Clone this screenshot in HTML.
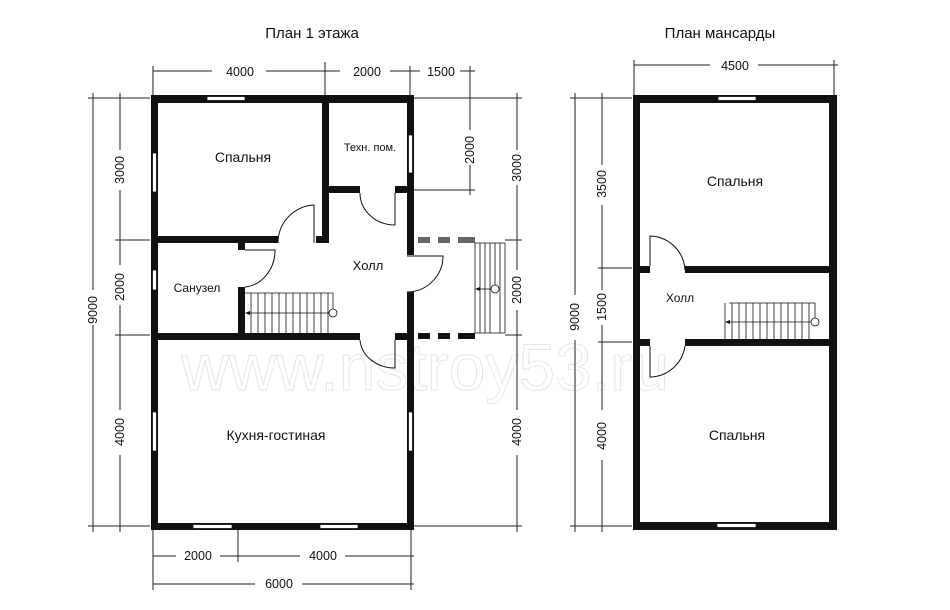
<!DOCTYPE html>
<html><head><meta charset="utf-8"><style>
html,body{margin:0;padding:0;background:#fff;width:950px;height:610px;overflow:hidden}
svg text{font-family:"Liberation Sans",sans-serif;fill:#111}
</style></head><body>
<svg width="950" height="610" viewBox="0 0 950 610" xmlns="http://www.w3.org/2000/svg">
<!-- watermark -->
<text x="425" y="390" font-size="66" text-anchor="middle" stroke="#e6e6e6" stroke-width="1" style="fill:none">www.nstroy53.ru</text>

<g stroke="#222" stroke-width="1" fill="none">
<!-- Plan 1 dims top -->
<line x1="153" y1="71" x2="212" y2="71"/><line x1="266" y1="71" x2="340" y2="71"/><line x1="390" y1="71" x2="420" y2="71"/><line x1="460" y1="71" x2="475" y2="71"/>
<line x1="153" y1="66" x2="153" y2="95"/><line x1="325" y1="62" x2="325" y2="95"/><line x1="410" y1="66" x2="410" y2="95"/><line x1="470" y1="66" x2="470" y2="110"/>
<!-- left dims -->
<line x1="88" y1="98" x2="150" y2="98"/><line x1="93" y1="93" x2="93" y2="290"/><line x1="93" y1="325" x2="93" y2="532"/>
<line x1="120" y1="93" x2="120" y2="150"/><line x1="120" y1="190" x2="120" y2="265"/><line x1="120" y1="305" x2="120" y2="410"/><line x1="120" y1="455" x2="120" y2="532"/>
<line x1="115" y1="240" x2="150" y2="240"/><line x1="115" y1="335" x2="150" y2="335"/><line x1="88" y1="526" x2="150" y2="526"/>
<!-- right dims -->
<line x1="414" y1="98" x2="522" y2="98"/><line x1="414" y1="190" x2="475" y2="190"/><line x1="470" y1="110" x2="470" y2="130"/><line x1="470" y1="165" x2="470" y2="195"/>
<line x1="517" y1="93" x2="517" y2="150"/><line x1="517" y1="185" x2="517" y2="270"/><line x1="517" y1="310" x2="517" y2="410"/><line x1="517" y1="455" x2="517" y2="532"/>
<line x1="505" y1="240" x2="522" y2="240"/><line x1="505" y1="335" x2="522" y2="335"/><line x1="414" y1="526" x2="522" y2="526"/>
<!-- bottom dims -->
<line x1="153" y1="530" x2="153" y2="590"/><line x1="238" y1="530" x2="238" y2="562"/><line x1="411" y1="530" x2="411" y2="590"/>
<line x1="153" y1="556" x2="176" y2="556"/><line x1="220" y1="556" x2="300" y2="556"/><line x1="345" y1="556" x2="414" y2="556"/>
<line x1="153" y1="584" x2="255" y2="584"/><line x1="302" y1="584" x2="414" y2="584"/>

<!-- Plan 2 dims -->
<line x1="634" y1="60" x2="634" y2="95"/><line x1="834" y1="60" x2="834" y2="95"/>
<line x1="634" y1="65" x2="710" y2="65"/><line x1="758" y1="65" x2="838" y2="65"/>
<line x1="570" y1="98" x2="632" y2="98"/><line x1="575" y1="93" x2="575" y2="295"/><line x1="575" y1="340" x2="575" y2="532"/>
<line x1="602" y1="93" x2="602" y2="165"/><line x1="602" y1="205" x2="602" y2="290"/><line x1="602" y1="325" x2="602" y2="410"/><line x1="602" y1="460" x2="602" y2="532"/>
<line x1="598" y1="268" x2="632" y2="268"/><line x1="598" y1="342" x2="632" y2="342"/><line x1="570" y1="526" x2="632" y2="526"/>
</g>

<!-- Plan 1 walls -->
<g fill="#111">
<rect x="151" y="95" width="263" height="8"/>
<rect x="151" y="95" width="7" height="435"/>
<rect x="407" y="95" width="7" height="160"/>
<rect x="407" y="292" width="7" height="238"/>
<rect x="151" y="523" width="263" height="7"/>
<rect x="322" y="95" width="7" height="148"/>
<rect x="329" y="186" width="31" height="7"/><rect x="395" y="186" width="12" height="7"/>
<rect x="158" y="236" width="120" height="7"/>
<rect x="316" y="236" width="13" height="7"/>
<rect x="238" y="236" width="7" height="14"/>
<rect x="238" y="287" width="7" height="53"/>
<rect x="158" y="333" width="202" height="7"/>
<rect x="395" y="333" width="12" height="7"/>
</g>
<!-- dashes -->
<g fill="#666"><rect x="418" y="237" width="12" height="6"/><rect x="438" y="237" width="12" height="6"/><rect x="458" y="237" width="17" height="6"/></g>
<g fill="#111"><rect x="418" y="333" width="12" height="6"/><rect x="438" y="333" width="12" height="6"/><rect x="458" y="333" width="17" height="6"/></g>
<!-- windows plan1 -->
<g fill="#fff" stroke="#111" stroke-width="0.8">
<rect x="207" y="96.5" width="38" height="4"/>
<rect x="152.5" y="153" width="4" height="39"/>
<rect x="152.5" y="270" width="4" height="20"/>
<rect x="152.5" y="412" width="4" height="39"/>
<rect x="408.5" y="135" width="4" height="38"/>
<rect x="408.5" y="412" width="4" height="39"/>
<rect x="193" y="524.5" width="39" height="4"/>
<rect x="320" y="524.5" width="38" height="4"/>
</g>
<!-- doors plan1 -->
<g stroke="#111" stroke-width="1" fill="none">
<path d="M314 243 V205 A38 38 0 0 0 278 243"/>
<path d="M245 250 H275 A33 37 0 0 1 245 287"/>
<path d="M395 193 V225 A35 32 0 0 1 360 193"/>
<path d="M407 256 H443 A36 36 0 0 1 407 292"/>
<path d="M395 340 V368 A35 30 0 0 1 360 340"/>
</g>
<!-- stairs -->
<g stroke="#111" stroke-width="0.8" fill="none">
<line x1="245" y1="293" x2="333" y2="293"/>
<line x1="251" y1="293" x2="251" y2="333"/><line x1="258" y1="293" x2="258" y2="333"/><line x1="265" y1="293" x2="265" y2="333"/><line x1="272" y1="293" x2="272" y2="333"/><line x1="279" y1="293" x2="279" y2="333"/><line x1="286" y1="293" x2="286" y2="333"/><line x1="293" y1="293" x2="293" y2="333"/><line x1="300" y1="293" x2="300" y2="333"/><line x1="307" y1="293" x2="307" y2="333"/><line x1="314" y1="293" x2="314" y2="333"/><line x1="321" y1="293" x2="321" y2="333"/><line x1="328" y1="293" x2="328" y2="333"/><line x1="333" y1="293" x2="333" y2="309"/>
<line x1="249" y1="313" x2="329" y2="313"/>
<circle cx="333" cy="313" r="4" fill="#fff"/>
<line x1="475" y1="243" x2="475" y2="333"/><line x1="480" y1="243" x2="480" y2="333"/><line x1="485" y1="243" x2="485" y2="333"/><line x1="490" y1="243" x2="490" y2="333"/><line x1="495" y1="243" x2="495" y2="285"/><line x1="500" y1="243" x2="500" y2="333"/><line x1="505" y1="243" x2="505" y2="333"/>
<line x1="475" y1="243" x2="505" y2="243"/><line x1="475" y1="333" x2="505" y2="333"/>
<line x1="478" y1="289" x2="491" y2="289"/>
<circle cx="495" cy="289" r="4" fill="#fff"/>
<line x1="729" y1="303" x2="815" y2="303"/>
<line x1="725" y1="303" x2="725" y2="339"/>
<line x1="732" y1="303" x2="732" y2="339"/><line x1="739" y1="303" x2="739" y2="339"/><line x1="746" y1="303" x2="746" y2="339"/><line x1="753" y1="303" x2="753" y2="339"/><line x1="760" y1="303" x2="760" y2="339"/><line x1="767" y1="303" x2="767" y2="339"/><line x1="774" y1="303" x2="774" y2="339"/><line x1="781" y1="303" x2="781" y2="339"/><line x1="788" y1="303" x2="788" y2="339"/><line x1="795" y1="303" x2="795" y2="339"/><line x1="802" y1="303" x2="802" y2="339"/><line x1="809" y1="303" x2="809" y2="339"/><line x1="815" y1="303" x2="815" y2="318"/>
<line x1="729" y1="322" x2="811" y2="322"/>
<circle cx="815" cy="322" r="4" fill="#fff"/>
</g>
<g fill="#111"><path d="M245 313 l5 -2 v4z"/><path d="M475 289 l5 -2 v4z"/><path d="M725 322 l5 -2 v4z"/></g>

<!-- Plan 2 walls -->
<g fill="#111">
<rect x="633" y="95" width="204" height="8"/>
<rect x="633" y="95" width="7" height="435"/>
<rect x="829" y="95" width="8" height="435"/>
<rect x="633" y="522" width="204" height="8"/>
<rect x="685" y="266" width="152" height="7"/>
<rect x="640" y="266" width="10" height="7"/>
<rect x="685" y="339" width="152" height="7"/>
<rect x="640" y="339" width="10" height="7"/>
</g>
<g fill="#fff" stroke="#111" stroke-width="0.8">
<rect x="718" y="96.5" width="38" height="4"/>
<rect x="717" y="523.5" width="39" height="4"/>
</g>
<g stroke="#111" stroke-width="1" fill="none">
<path d="M650 266 V236 A36 36 0 0 1 685 270"/>
<path d="M650 346 V377 A36 36 0 0 0 685 346"/>
</g>

<!-- texts -->
<text x="312" y="38" font-size="15" text-anchor="middle">План 1 этажа</text>
<text x="720" y="38" font-size="15" text-anchor="middle">План мансарды</text>
<g font-size="12.5" text-anchor="middle">
<text x="240" y="76">4000</text><text x="367" y="76">2000</text><text x="441" y="76">1500</text>
<text x="198" y="560">2000</text><text x="323" y="560">4000</text><text x="279" y="588">6000</text>
<text x="735" y="70">4500</text>
<g transform="rotate(-90)">
<text x="-170" y="124">3000</text><text x="-287" y="124">2000</text><text x="-432" y="124">4000</text>
<text x="-310" y="97">9000</text>
<text x="-150" y="474">2000</text><text x="-168" y="521">3000</text><text x="-290" y="521">2000</text><text x="-432" y="521">4000</text>
<text x="-184" y="606">3500</text><text x="-307" y="606">1500</text><text x="-317" y="579">9000</text><text x="-436" y="606">4000</text>
</g>
</g>
<g font-size="14" text-anchor="middle">
<text x="243" y="162">Спальня</text>
<text x="276" y="440">Кухня-гостиная</text>
<text x="735" y="186">Спальня</text>
<text x="737" y="440">Спальня</text>
</g>
<text x="370" y="151" font-size="11" text-anchor="middle">Техн. пом.</text>
<text x="197" y="292" font-size="12" text-anchor="middle">Санузел</text>
<text x="368" y="270" font-size="13" text-anchor="middle">Холл</text>
<text x="680" y="302" font-size="12" text-anchor="middle">Холл</text>
</svg>
</body></html>
